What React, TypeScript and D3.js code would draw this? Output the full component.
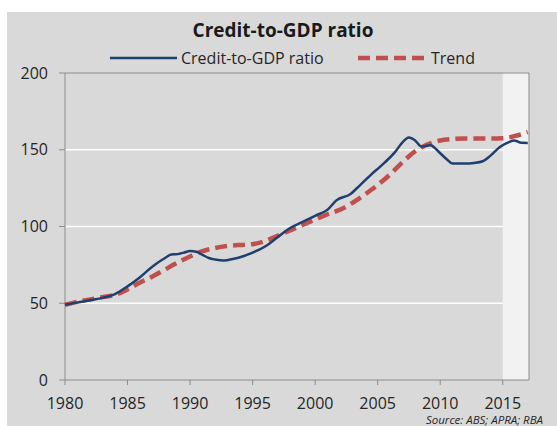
import * as d3 from 'd3';

// credit-to-GDP ratio (year, per cent)
const creditYears = [
  1980, 1981, 1982, 1983, 1984, 1985, 1986, 1987, 1988, 1988.5, 1989, 1989.5, 1990, 1990.5, 1991,
  1991.5, 1992, 1992.7, 1993.5, 1994, 1995, 1996, 1997, 1998, 1999, 2000, 2001, 2001.7, 2002.8,
  2003.6, 2004.5, 2005.2, 2006.4, 2007, 2007.5, 2008, 2008.5, 2009.2, 2010, 2010.5, 2011, 2012,
  2012.7, 2013.4, 2014, 2014.8, 2015.5, 2015.9, 2016.5, 2017,
];
const creditValues = [
  49, 50.5, 52, 53.5, 56, 61, 67, 74, 79.5, 81.7, 82, 83, 84, 83.5, 81.5, 79.5, 78.5, 77.8, 79, 80,
  83, 87, 93, 99, 103, 107, 111, 117, 121, 127, 134, 139, 148.6, 155, 158, 156, 152, 153, 147.7,
  144, 141, 141, 141.4, 142.5, 146, 152, 155, 156, 154.5, 154.4,
];

const trendYears = [
  1980, 1981, 1982, 1983, 1984, 1985, 1986, 1987, 1988, 1989, 1990, 1991, 1992, 1993, 1994, 1995,
  1996, 1997, 1998, 1999, 2000, 2001, 2002, 2003, 2004, 2005, 2006, 2007, 2008, 2009, 2010, 2011,
  2012, 2013, 2014, 2015, 2016, 2017,
];
const trendValues = [
  49, 51, 52.5, 54, 55.5, 59, 63.5, 67.5, 72, 76.5, 80.5, 84, 86, 87.3, 88, 88.5, 90.5, 94, 97.5,
  101, 104.5, 108, 111, 115.5, 121, 127, 134, 142, 149, 153.5, 156, 157, 157.3, 157.3, 157.3, 157.5,
  159, 161.5,
];

const xTicks = [1980, 1985, 1990, 1995, 2000, 2005, 2010, 2015];
const yTicks = [0, 50, 100, 150, 200];
const forecastStart = 2015;

const W = 557;
const H = 426;
const margin = { top: 73, right: 28, bottom: 46, left: 65 };
const font = '"Open Sans", "Liberation Sans", sans-serif';
const axisColor = '#8c8c8c';
const textColor = '#262626';

export default function App() {
  const x = d3.scaleLinear().domain([1980, 2017.1]).range([margin.left, W - margin.right]);
  const y = d3.scaleLinear().domain([0, 200]).range([H - margin.bottom, margin.top]);

  const line = d3
    .line<[number, number]>()
    .x((d) => x(d[0]))
    .y((d) => y(d[1]))
    .curve(d3.curveMonotoneX);

  const credit = creditYears.map((yr, i) => [yr, creditValues[i]] as [number, number]);
  const trend = trendYears.map((yr, i) => [yr, trendValues[i]] as [number, number]);

  const [x0, x1] = x.range();
  const [yb, yt] = y.range();

  return (
    <svg width={W} height={H} style={{ position: 'absolute', left: 0, top: 0 }} fontFamily={font}>
      <rect x={7} y={12} width={W - 7} height={H - 12} fill="#d9d9d9" />
      {/* shaded forecast period */}
      <rect x={x(forecastStart)} y={yt} width={x1 - x(forecastStart)} height={yb - yt} fill="#f2f2f2" />
      {yTicks
        .filter((t) => t > 0 && t < 200)
        .map((t) => (
          <line key={t} x1={x0} x2={x(forecastStart)} y1={y(t)} y2={y(t)} stroke="#ffffff" strokeWidth={1.5} />
        ))}
      <line x1={x0} x2={x1} y1={yt} y2={yt} stroke={axisColor} strokeWidth={1} />
      <line x1={x1} x2={x1} y1={yt} y2={yb} stroke={axisColor} strokeWidth={1} />
      <line x1={x0} x2={x0} y1={yt} y2={yb} stroke={axisColor} strokeWidth={1} />
      <line x1={x0} x2={x1} y1={yb} y2={yb} stroke={axisColor} strokeWidth={1} />
      {yTicks.map((t) => (
        <g key={t}>
          <line x1={x0 - 6} x2={x0} y1={y(t)} y2={y(t)} stroke={axisColor} />
          <text x={x0 - 17} y={y(t)} dy="0.35em" textAnchor="end" fontSize={16} fill={textColor}>
            {t}
          </text>
        </g>
      ))}
      {xTicks.map((t) => (
        <g key={t}>
          <line x1={x(t)} x2={x(t)} y1={yb} y2={yb + 5} stroke={axisColor} />
          <text x={x(t)} y={yb + 29} textAnchor="middle" fontSize={16} fill={textColor}>
            {t}
          </text>
        </g>
      ))}
      <path d={line(trend) || ''} fill="none" stroke="#c0504d" strokeWidth={4.5} strokeDasharray="12 6" />
      <path d={line(credit) || ''} fill="none" stroke="#1f3f6e" strokeWidth={2.5} />

      <text x={283} y={37} textAnchor="middle" fontSize={19} fontWeight="bold" fill="#1a1a1a">
        Credit-to-GDP ratio
      </text>
      <line x1={110} x2={177} y1={58} y2={58} stroke="#1f3f6e" strokeWidth={2.5} />
      <text x={181} y={58} dy="0.35em" fontSize={16} fill={textColor}>
        Credit-to-GDP ratio
      </text>
      <line x1={358} x2={430} y1={58} y2={58} stroke="#c0504d" strokeWidth={4.5} strokeDasharray="12 6" />
      <text x={431} y={58} dy="0.35em" fontSize={16} fill={textColor}>
        Trend
      </text>
      <text x={543} y={424} textAnchor="end" fontSize={11.5} fontStyle="italic" fill={textColor}>
        Source: ABS; APRA; RBA
      </text>
    </svg>
  );
}
